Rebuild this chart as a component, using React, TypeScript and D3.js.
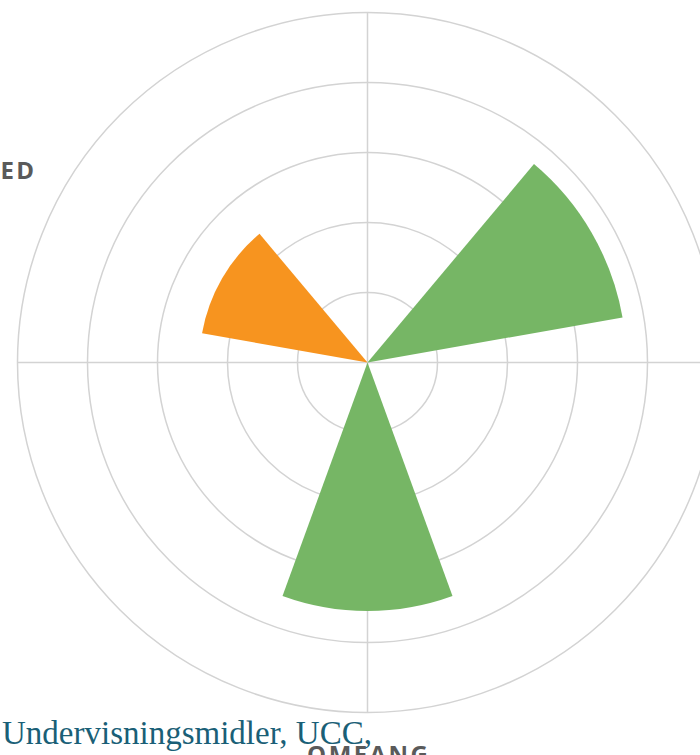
import React from 'react';
import * as d3 from 'd3';

// categories around the circle (clockwise from the top-right)
const categories = ['KVALITET', 'OMFANG', 'ANVENDELIGHED'];
const values = [3.7, 3.55, 2.4];
const colors = ['#76b665', '#76b665', '#f7941f'];
const gridLevels = [1, 2, 3, 4, 5];
const spokeAngles = [0, 90, 180, 270];

const W = 700;
const H = 755;
const cx = 367.5;
const cy = 362.5;
const outer = 350;

const App = () => {
    const r = d3.scaleLinear().domain([0, 5]).range([0, outer]);
    // each category owns a 120deg sector, wedge drawn in its middle third
    const angle = d3.scaleLinear().domain([0, categories.length]).range([0, 360]);
    const toRad = (deg: number) => (deg * Math.PI) / 180;
    const arc = d3.arc<any>();

    const wedges = categories.map((c, i) => {
        const mid = angle(i) + 60;
        return {
            c,
            color: colors[i],
            path: arc({
                innerRadius: 0,
                outerRadius: r(values[i]),
                startAngle: toRad(mid - 20),
                endAngle: toRad(mid + 20),
            }),
            mid,
        };
    });

    const labelR = 385;
    const spacing = 2.5;

    return (
        <svg width={W} height={H} style={{ position: 'absolute', left: 0, top: 0 }}>
            <g transform={`translate(${cx},${cy})`}>
                {gridLevels.map(l => (
                    <circle key={l} r={r(l)} fill="none" stroke="#d3d3d3" strokeWidth={1.5} />
                ))}
                {spokeAngles.map(a => (
                    <line
                        key={a}
                        x1={0}
                        y1={0}
                        x2={outer * Math.sin(toRad(a))}
                        y2={-outer * Math.cos(toRad(a))}
                        stroke="#d3d3d3"
                        strokeWidth={1.5}
                    />
                ))}
                {wedges.map(w => (
                    <path key={w.c} d={w.path || ''} fill={w.color} />
                ))}
                {wedges.map(w => {
                    const s = Math.sin(toRad(w.mid));
                    const c = Math.cos(toRad(w.mid));
                    const anchor = Math.abs(s) < 0.1 ? 'middle' : s > 0 ? 'start' : 'end';
                    const shift = anchor === 'end' ? spacing : anchor === 'middle' ? spacing / 2 : 0;
                    return (
                        <text
                            key={'l' + w.c}
                            x={labelR * s + shift}
                            y={-labelR * c}
                            dy={`${0.45 - 0.19 * c}em`}
                            textAnchor={anchor}
                            fontFamily="'Open Sans', sans-serif"
                            fontWeight={700}
                            fontSize={24}
                            letterSpacing={spacing}
                            fill="#5a5a5a"
                        >
                            {w.c}
                        </text>
                    );
                })}
            </g>
            <text
                x={2}
                y={744}
                fontFamily="'Liberation Serif', serif"
                fontSize={33}
                fill="#1a5f77"
            >
                Undervisningsmidler, UCC,
            </text>
        </svg>
    );
};

export default App;
